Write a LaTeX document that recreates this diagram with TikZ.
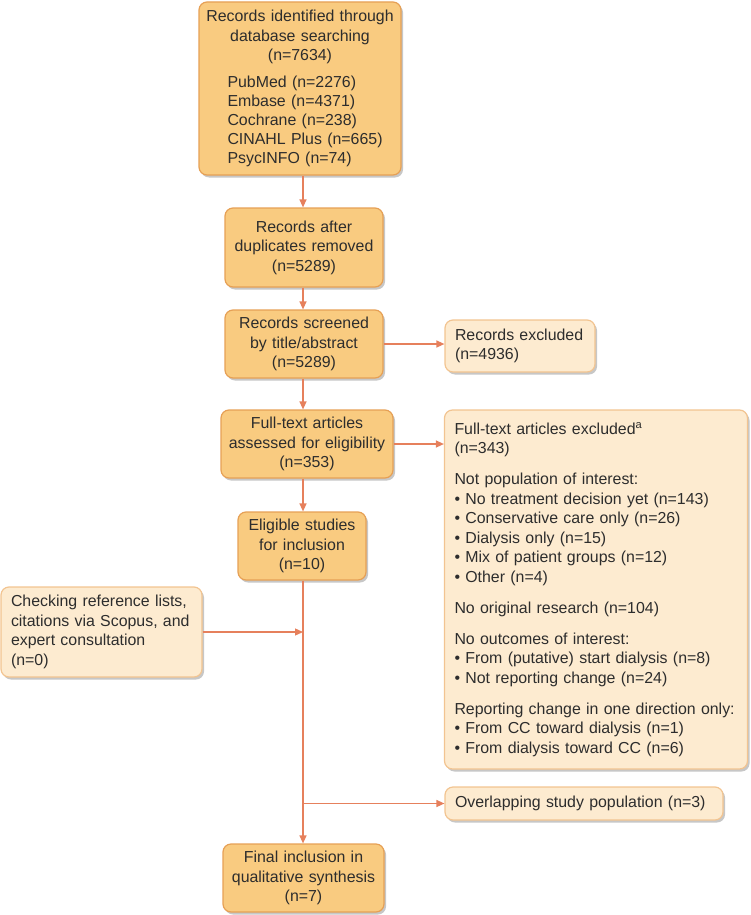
\documentclass[tikz,border=0pt]{standalone}
\usepackage{fontspec}
\setmainfont{Liberation Sans}
\usetikzlibrary{arrows.meta,shadows}
\definecolor{mainfill}{RGB}{249,203,128}
\definecolor{mainline}{RGB}{230,160,85}
\definecolor{sidefill}{RGB}{253,235,208}
\definecolor{sideline}{RGB}{242,196,145}
\definecolor{arr}{RGB}{230,128,92}
\definecolor{shad}{RGB}{175,175,175}
\definecolor{txt}{RGB}{45,45,45}
\begin{document}
\begin{tikzpicture}[x=1pt,y=-1pt,
  every node/.style={font=\fontsize{15.9}{19.5}\selectfont, text=txt},
  base/.style={rectangle, rounded corners=8pt, line width=1.2pt, inner sep=0pt,
    drop shadow={shadow xshift=2pt, shadow yshift=-2.5pt, fill=shad, opacity=0.7}},
  mainbox/.style={base, draw=mainline, fill=mainfill, align=center},
  sidebox/.style={base, draw=sideline, fill=sidefill, align=left},
  conn/.style={draw=arr, line width=1.3pt, -{Triangle[length=8pt,width=7pt]}},
  plainline/.style={draw=arr, line width=1.3pt}
]
\useasboundingbox (0,0) rectangle (750,915);
\coordinate (col) at (303,0);

\node[mainbox, minimum width=202pt, minimum height=173pt, text width=195pt] (b1) at (300,88.5)
  {Records identified through\\database searching\\(n=7634)\\[7pt]\hspace*{20pt}\parbox[t]{165pt}{\fontsize{15.9}{19}\selectfont PubMed (n=2276)\\Embase (n=4371)\\Cochrane (n=238)\\CINAHL Plus (n=665)\\PsycINFO (n=74)}};

\node[mainbox, minimum width=158pt, minimum height=79pt, text width=150pt] (b2) at (304,247.5)
  {Records after\\duplicates removed\\(n=5289)};

\node[mainbox, minimum width=158pt, minimum height=68pt, text width=150pt] (b3) at (304,344)
  {Records screened\\by title/abstract\\(n=5289)};

\node[mainbox, minimum width=172pt, minimum height=68pt, text width=165pt] (b4) at (307,444)
  {Full-text articles\\assessed for eligibility\\(n=353)};

\node[mainbox, minimum width=128pt, minimum height=68pt, text width=122pt] (b5) at (302,546)
  {Eligible studies\\for inclusion\\(n=10)};

\node[mainbox, minimum width=161pt, minimum height=68pt, text width=155pt] (b6) at (303.5,878)
  {Final inclusion in\\qualitative synthesis\\(n=7)};

\node[sidebox, minimum width=150pt, minimum height=52pt, text width=130pt] (e1) at (520,346)
  {Records excluded\\(n=4936)};

\node[sidebox, minimum width=303pt, minimum height=359pt, text width=283pt] (e2) at (596,589.5)
  {Full-text articles excluded\textsuperscript{a}\\(n=343)\\[11.5pt]
   Not population of interest:\\
   \textbullet{} No treatment decision yet (n=143)\\
   \textbullet{} Conservative care only (n=26)\\
   \textbullet{} Dialysis only (n=15)\\
   \textbullet{} Mix of patient groups (n=12)\\
   \textbullet{} Other (n=4)\\[11.5pt]
   No original research (n=104)\\[11.5pt]
   No outcomes of interest:\\
   \textbullet{} From (putative) start dialysis (n=8)\\
   \textbullet{} Not reporting change (n=24)\\[11.5pt]
   Reporting change in one direction only:\\
   \textbullet{} From CC toward dialysis (n=1)\\
   \textbullet{} From dialysis toward CC (n=6)};

\node[sidebox, minimum width=201pt, minimum height=90pt, text width=181pt] (ref) at (101.5,632)
  {Checking reference lists,\\citations via Scopus, and\\expert consultation\\(n=0)};

\node[sidebox, minimum width=278pt, minimum height=33pt, text width=258pt] (e3) at (584,803.5)
  {Overlapping study population (n=3)};

\draw[conn] (b1.south -| col) -- (b2.north -| col);
\draw[conn] (b2.south -| col) -- (b3.north -| col);
\draw[conn] (b3.south -| col) -- (b4.north -| col);
\draw[conn] (b4.south -| col) -- (b5.north -| col);
\draw[conn] (b5.south -| col) -- (b6.north -| col);
\draw[conn] (b3.east) -- (b3.east -| e1.west);
\draw[conn] (b4.east) -- (b4.east -| e2.west);
\draw[conn] (ref.east) -- (ref.east -| col);
\draw[conn] (e3.west -| col) -- (e3.west);
\end{tikzpicture}
\end{document}
